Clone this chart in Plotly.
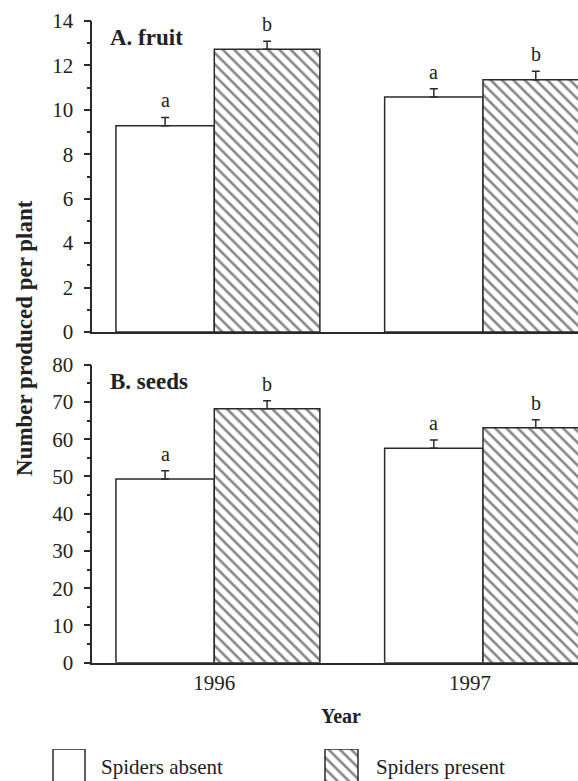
import plotly.graph_objects as go

# ---------------- data ----------------
years = ["1996", "1997"]
fruit_absent = [9.28, 10.58]
fruit_absent_err = [0.38, 0.37]
fruit_present = [12.73, 11.36]
fruit_present_err = [0.36, 0.38]
seeds_absent = [49.3, 57.6]
seeds_absent_err = [2.2, 2.2]
seeds_present = [68.2, 63.1]
seeds_present_err = [2.1, 2.1]
letters_absent = ["a", "a"]
letters_present = ["b", "b"]
fruit_ticks = [0, 2, 4, 6, 8, 10, 12, 14]
seeds_ticks = [0, 10, 20, 30, 40, 50, 60, 70, 80]

# ---------------- style ----------------
W, H = 578, 781
FONT = "Liberation Serif"
INK = "#222222"
LINE = "#2a2a2a"
gx = list(range(len(years)))          # group positions
ABS_OFF, ABS_W = -0.366, 0.366
PRE_OFF, PRE_W = 0.0, 0.393
HATCH = dict(shape="\\", size=8, solidity=0.33, fgcolor="#111111", bgcolor="white",
             fillmode="overlay")

fig = go.Figure()


def add_panel(xa, ya, absent, absent_err, present, present_err):
    fig.add_trace(go.Bar(
        x=gx, y=absent, offset=ABS_OFF, width=ABS_W, xaxis=xa, yaxis=ya,
        marker=dict(color="white", line=dict(color=LINE, width=1.5)),
        error_y=dict(type="data", symmetric=False, array=absent_err,
                     arrayminus=[0] * len(absent), color=LINE, thickness=1.5, width=4),
        showlegend=False, name="Spiders absent"))
    fig.add_trace(go.Bar(
        x=gx, y=present, offset=PRE_OFF, width=PRE_W, xaxis=xa, yaxis=ya,
        marker=dict(color="white", pattern=HATCH, line=dict(color=LINE, width=1.5)),
        error_y=dict(type="data", symmetric=False, array=present_err,
                     arrayminus=[0] * len(present), color=LINE, thickness=1.5, width=4),
        showlegend=False, name="Spiders present"))
    for i in gx:
        for vals, errs, let, off, w in ((absent, absent_err, letters_absent, ABS_OFF, ABS_W),
                                        (present, present_err, letters_present, PRE_OFF, PRE_W)):
            fig.add_annotation(x=i + off + w / 2, y=vals[i] + errs[i], xref=xa, yref=ya,
                               text=let[i], showarrow=False, yanchor="bottom", yshift=4,
                               font=dict(family=FONT, size=20, color=INK))


add_panel("x", "y", fruit_absent, fruit_absent_err, fruit_present, fruit_present_err)
add_panel("x2", "y2", seeds_absent, seeds_absent_err, seeds_present, seeds_present_err)

# legend swatches drawn as bars on a hidden helper axis
fig.add_trace(go.Bar(x=[69], y=[1], base=0, width=32, xaxis="x3", yaxis="y3",
                     marker=dict(color="white", line=dict(color=LINE, width=1.5)),
                     showlegend=False, hoverinfo="skip"))
fig.add_trace(go.Bar(x=[341.5], y=[1], base=0, width=33, xaxis="x3", yaxis="y3",
                     marker=dict(color="white", pattern=HATCH, line=dict(color=LINE, width=1.5)),
                     showlegend=False, hoverinfo="skip"))

x_dom = [92.3 / W, 1.0]
x_rng = [-0.454, 1.3536]


def py(p):
    return 1 - p / H


tickfont = dict(family=FONT, size=21, color=INK)
yax_common = dict(showline=True, linecolor=LINE, linewidth=1.5, ticks="outside", ticklen=7,
                  tickwidth=1.5, tickcolor=LINE, showgrid=False, zeroline=False,
                  tickfont=tickfont, ticklabelstandoff=6, automargin=False)
xax_common = dict(showline=True, linecolor=LINE, linewidth=1.5, showgrid=False, zeroline=False,
                  range=x_rng, domain=x_dom, automargin=False, ticks="", ticklen=0)

fig.update_layout(
    width=W, height=H, margin=dict(l=0, r=0, t=0, b=0),
    paper_bgcolor="white", plot_bgcolor="rgba(0,0,0,0)",
    barmode="overlay", showlegend=False,
    font=dict(family=FONT, color=INK),
    xaxis=dict(**xax_common, anchor="y", showticklabels=False),
    yaxis=dict(**yax_common, anchor="x", domain=[py(332), py(21)], range=[0, 14],
               tickvals=fruit_ticks, minor=dict(dtick=1, ticks="outside", ticklen=4,
                                                tickwidth=1.5, tickcolor=LINE)),
    xaxis2=dict(**xax_common, anchor="y2", tickvals=[0, 0.9516], ticktext=years,
                tickfont=tickfont, ticklabelstandoff=0),
    yaxis2=dict(**yax_common, anchor="x2", domain=[py(662.7), py(364.7)], range=[0, 80],
                tickvals=seeds_ticks, minor=dict(dtick=5, ticks="outside", ticklen=4,
                                                 tickwidth=1.5, tickcolor=LINE)),
    xaxis3=dict(domain=[0, 1], range=[0, W], visible=False, anchor="y3"),
    yaxis3=dict(domain=[0, py(749)], range=[0.05, 1], visible=False, anchor="x3"),
)

# text labels
fig.add_annotation(x=108 / W, y=py(37), xref="paper", yref="paper", text="<b>A. fruit</b>",
                   showarrow=False, xanchor="left", yanchor="middle",
                   font=dict(family=FONT, size=23, color=INK))
fig.add_annotation(x=108 / W, y=py(381), xref="paper", yref="paper", text="<b>B. seeds</b>",
                   showarrow=False, xanchor="left", yanchor="middle",
                   font=dict(family=FONT, size=23, color=INK))
fig.add_annotation(x=24 / W, y=py(338), xref="paper", yref="paper",
                   text="<b>Number produced per plant</b>", textangle=-90, showarrow=False,
                   xanchor="center", yanchor="middle", font=dict(family=FONT, size=23, color=INK))
fig.add_annotation(x=341 / W, y=py(716), xref="paper", yref="paper", text="<b>Year</b>",
                   showarrow=False, xanchor="center", yanchor="middle",
                   font=dict(family=FONT, size=20, color=INK))
fig.add_annotation(x=99 / W, y=py(767), xref="paper", yref="paper", text="Spiders absent",
                   showarrow=False, xanchor="left", yanchor="middle",
                   font=dict(family=FONT, size=21, color=INK))
fig.add_annotation(x=374 / W, y=py(767), xref="paper", yref="paper", text="Spiders present",
                   showarrow=False, xanchor="left", yanchor="middle",
                   font=dict(family=FONT, size=21, color=INK))

fig.write_html("out.html", config={"displayModeBar": False},
               post_script="document.body.style.margin='0px';document.body.style.overflow='hidden';")
